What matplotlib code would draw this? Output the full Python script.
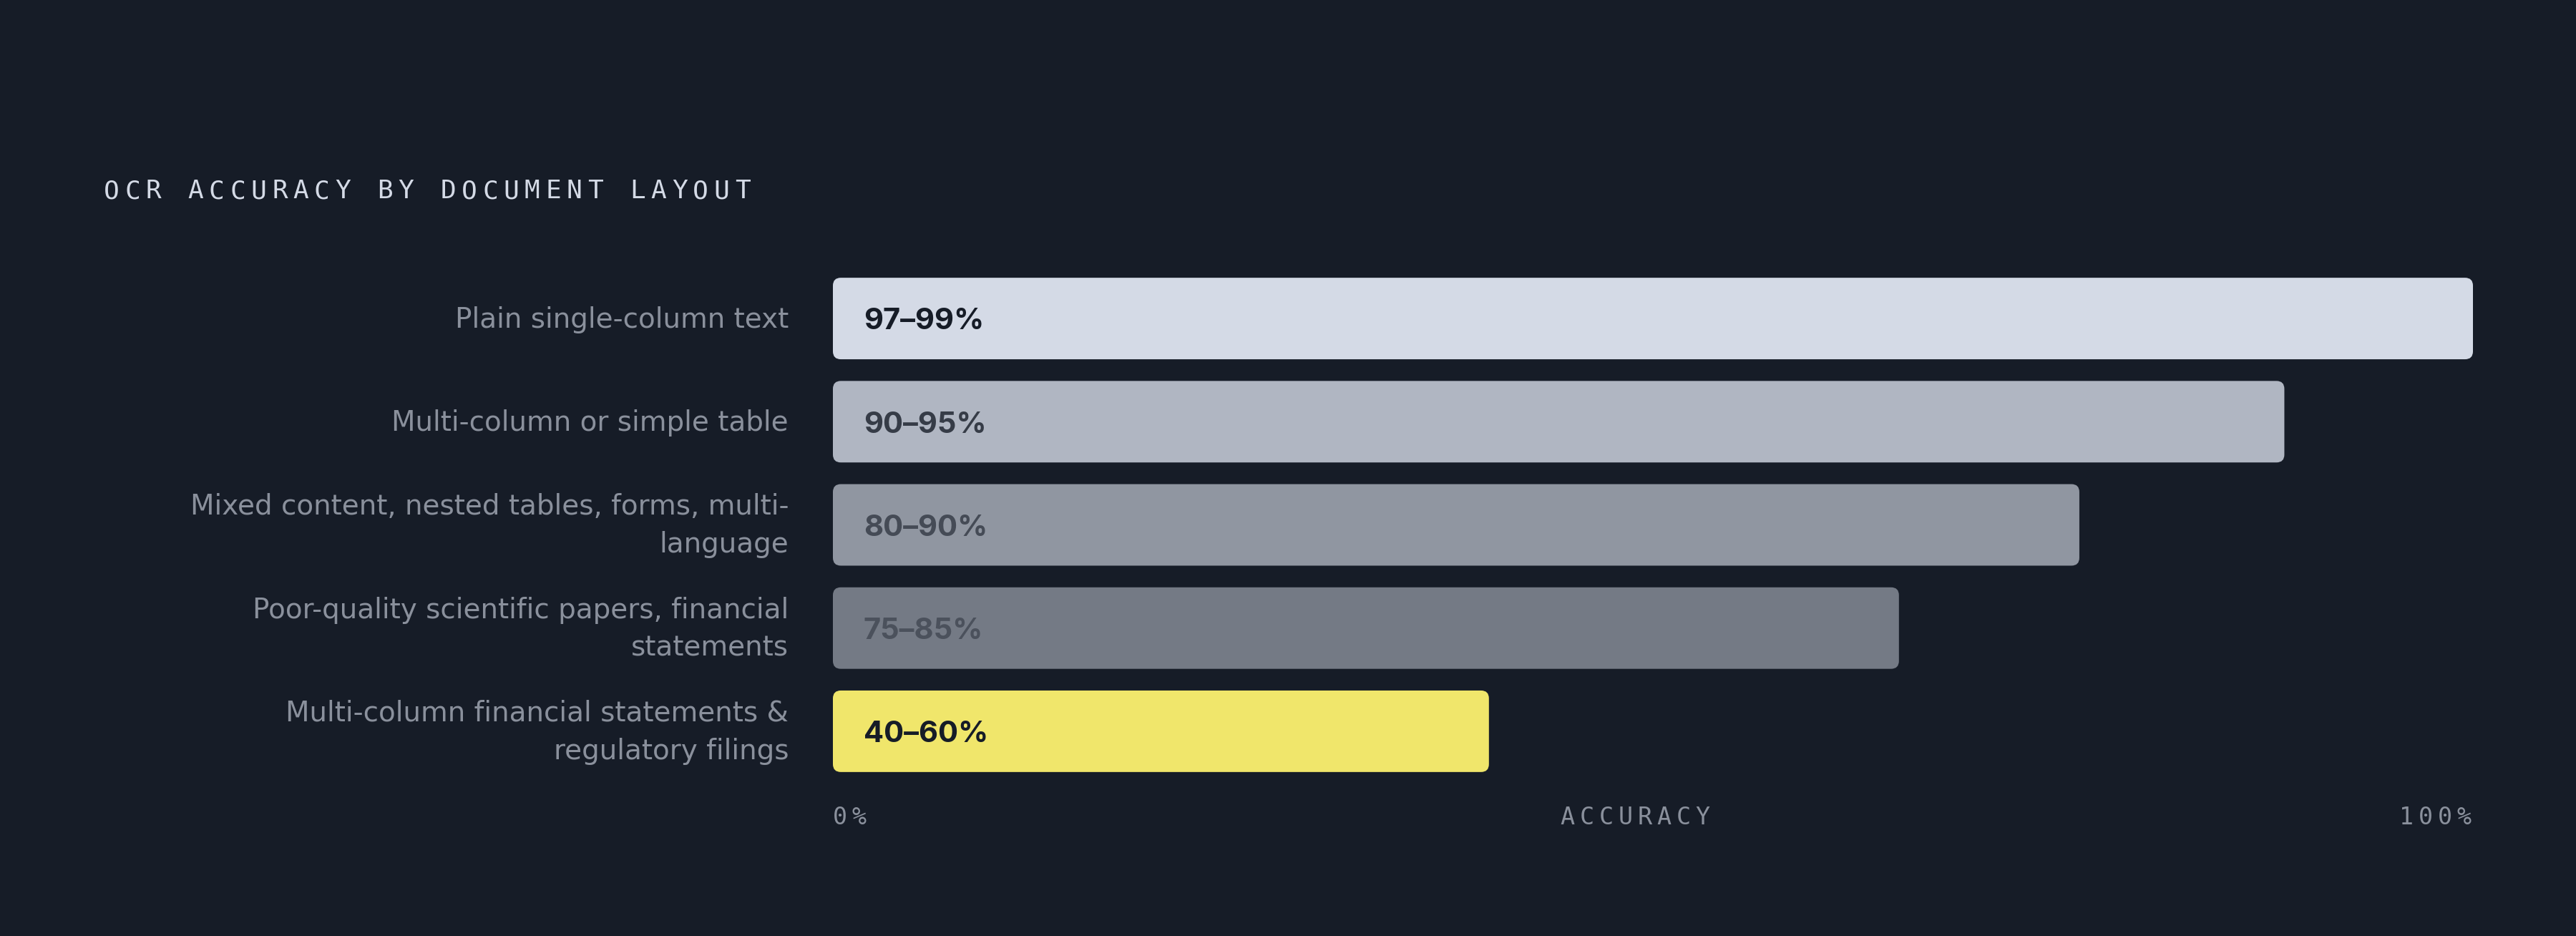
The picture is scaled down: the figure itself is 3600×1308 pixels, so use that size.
import matplotlib
matplotlib.use("Agg")
import matplotlib.pyplot as plt
from matplotlib.patches import FancyBboxPatch

# data
categories = [
    "Plain single-column text",
    "Multi-column or simple table",
    "Mixed content, nested tables, forms, multi-\nlanguage",
    "Poor-quality scientific papers, financial\nstatements",
    "Multi-column financial statements &\nregulatory filings",
]
bar_values = [100, 88.5, 76, 65, 40]
range_labels = ["97–99%", "90–95%", "80–90%", "75–85%", "40–60%"]
bar_colors = ["#d4dae6", "#b0b6c2", "#9096a1", "#747a85", "#f0e66b"]
value_colors = ["#161c27", "#363c47", "#454b56", "#4b515c", "#161c27"]
title = "OCR ACCURACY BY DOCUMENT LAYOUT"
axis_labels = ["0%", "ACCURACY", "100%"]

W, H, DPI = 3600, 1308, 100
BG = "#161c27"
MUTED = "#8a909c"
MONO = "DejaVu Sans Mono"
SANS = "Inter"

fig = plt.figure(figsize=(W / DPI, H / DPI), dpi=DPI)
fig.patch.set_facecolor(BG)

ax_left, ax_right = 1164, 3456
ax_top, ax_bottom = 373, 1094
ax = fig.add_axes([ax_left / W, 1 - ax_bottom / H,
                   (ax_right - ax_left) / W, (ax_bottom - ax_top) / H])
ax.set_facecolor(BG)
ax.set_xlim(0, 100)
ax.set_ylim(len(categories) - 0.5, -0.5)
ax.axis("off")

px_x = (ax_right - ax_left) / 100
px_y = (ax_bottom - ax_top) / len(categories)

ypos = list(range(len(categories)))
bars = ax.barh(ypos, bar_values, height=0.79, color=bar_colors)

# swap plain bars for rounded ones
radius = 11 / px_x
for b in bars:
    b.set_visible(False)
    ax.add_patch(FancyBboxPatch(
        (b.get_x(), b.get_y()), b.get_width(), b.get_height(),
        boxstyle=f"round,pad=0,rounding_size={radius}",
        mutation_aspect=px_x / px_y,
        fc=b.get_facecolor(), ec="none",
    ))

for i, (lab, col) in enumerate(zip(range_labels, value_colors)):
    ax.text(43 / px_x, i + 0.03, lab, ha="left", va="center", fontsize=30,
            fontweight="bold", color=col, family=SANS)

for i, cat in enumerate(categories):
    ax.text(-62 / px_x, i + 0.01, cat, ha="right", va="center", fontsize=28,
            color=MUTED, family="DejaVu Sans", multialignment="right",
            linespacing=1.5)


def spaced(x, y, s, step, size, color, ha="left"):
    """Letter-spaced mono text, x/y in figure pixels (y from top)."""
    cw = 0.602 * size * DPI / 72
    n = len(s)
    if ha == "left":
        x0 = x + cw / 2
    elif ha == "right":
        x0 = x - cw / 2 - (n - 1) * step
    else:
        x0 = x - (n - 1) * step / 2
    for k, ch in enumerate(s):
        if ch == " ":
            continue
        fig.text((x0 + k * step) / W, 1 - y / H, ch, ha="center", va="center",
                 fontsize=size, color=color, family=MONO)


spaced(145, 267, title, 29.4, 26, "#d4dae6")
spaced(ax_left, 1142, axis_labels[0], 27, 24, MUTED, ha="left")
spaced(2285, 1142, axis_labels[1], 27, 24, MUTED, ha="center")
spaced(3454, 1142, axis_labels[2], 27, 24, MUTED, ha="right")

fig.savefig("out.png", dpi=DPI, facecolor=BG)
